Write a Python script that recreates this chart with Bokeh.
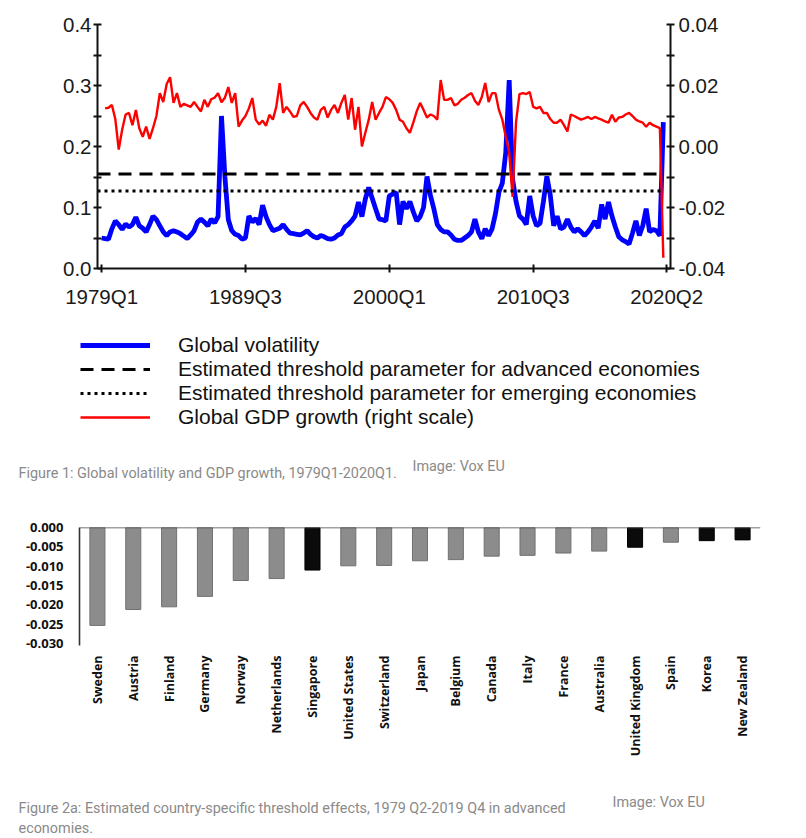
import math
from bokeh.plotting import figure
from bokeh.models import (Range1d, LinearAxis, FixedTicker, PrintfTickFormatter, Legend,
                          LegendItem, Label, Span, FactorRange, ColumnDataSource)
from bokeh.embed import file_html
from bokeh.resources import INLINE

# ---------------- data: figure 1 (quarterly, 1979Q1 .. 2020Q1) ----------------
first_year = 1979
volatility = [
    0.050, 0.049, 0.048, 0.065,  # 1979
    0.078, 0.072, 0.064, 0.073,  # 1980
    0.068, 0.072, 0.084, 0.070,  # 1981
    0.066, 0.060, 0.072, 0.086,  # 1982
    0.080, 0.070, 0.060, 0.054,  # 1983
    0.060, 0.062, 0.060, 0.057,  # 1984
    0.053, 0.049, 0.055, 0.062,  # 1985
    0.076, 0.081, 0.076, 0.070,  # 1986
    0.081, 0.075, 0.085, 0.250,  # 1987
    0.150, 0.080, 0.062, 0.056,  # 1988
    0.054, 0.048, 0.050, 0.086,  # 1989
    0.076, 0.082, 0.072, 0.104,  # 1990
    0.085, 0.072, 0.062, 0.064,  # 1991
    0.066, 0.072, 0.064, 0.058,  # 1992
    0.057, 0.056, 0.055, 0.058,  # 1993
    0.062, 0.056, 0.052, 0.050,  # 1994
    0.054, 0.052, 0.049, 0.048,  # 1995
    0.050, 0.055, 0.057, 0.068,  # 1996
    0.072, 0.078, 0.086, 0.109,  # 1997
    0.085, 0.114, 0.133, 0.115,  # 1998
    0.098, 0.081, 0.080, 0.078,  # 1999
    0.119, 0.122, 0.125, 0.072,  # 2000
    0.110, 0.098, 0.110, 0.093,  # 2001
    0.078, 0.085, 0.100, 0.151,  # 2002
    0.120, 0.098, 0.072, 0.064,  # 2003
    0.060, 0.060, 0.055, 0.048,  # 2004
    0.046, 0.046, 0.050, 0.054,  # 2005
    0.060, 0.081, 0.060, 0.049,  # 2006
    0.065, 0.054, 0.065, 0.090,  # 2007
    0.125, 0.140, 0.190, 0.309,  # 2008
    0.146, 0.110, 0.086, 0.081,  # 2009
    0.072, 0.119, 0.086, 0.070,  # 2010
    0.074, 0.110, 0.151, 0.120,  # 2011
    0.070, 0.086, 0.065, 0.068,  # 2012
    0.081, 0.068, 0.060, 0.065,  # 2013
    0.060, 0.054, 0.060, 0.068,  # 2014
    0.078, 0.066, 0.105, 0.081,  # 2015
    0.109, 0.086, 0.068, 0.052,  # 2016
    0.047, 0.044, 0.040, 0.058,  # 2017
    0.078, 0.054, 0.070, 0.098,  # 2018
    0.060, 0.064, 0.062, 0.054,  # 2019
    0.240,                       # 2020Q1
]

# GDP growth starts 1979Q2
gdp_growth = [
    0.0125, 0.0127, 0.0136,             # 1979 Q2-Q4
    0.0090, -0.0010, 0.0055, 0.0105,    # 1980
    0.0110, 0.0070, 0.0120, 0.0060,     # 1981
    0.0032, 0.0065, 0.0025, 0.0060,     # 1982
    0.0100, 0.0175, 0.0146, 0.0205,     # 1983
    0.0227, 0.0143, 0.0175, 0.0130,     # 1984
    0.0140, 0.0135, 0.0130, 0.0146,     # 1985
    0.0130, 0.0115, 0.0153, 0.0130,     # 1986
    0.0155, 0.0160, 0.0175, 0.0145,     # 1987
    0.0160, 0.0195, 0.0143, 0.0175,     # 1988
    0.0065, 0.0085, 0.0100, 0.0125,     # 1989
    0.0159, 0.0088, 0.0072, 0.0085,     # 1990
    0.0068, 0.0104, 0.0088, 0.0130,     # 1991
    0.0208, 0.0110, 0.0130, 0.0115,     # 1992
    0.0097, 0.0100, 0.0135, 0.0146,     # 1993
    0.0130, 0.0110, 0.0095, 0.0088,     # 1994
    0.0120, 0.0130, 0.0095, 0.0120,     # 1995
    0.0136, 0.0110, 0.0143, 0.0169,     # 1996
    0.0088, 0.0159, 0.0055, 0.0130,     # 1997
    0.0000, 0.0045, 0.0088, 0.0146,     # 1998
    0.0088, 0.0110, 0.0130, 0.0162,     # 1999
    0.0155, 0.0143, 0.0120, 0.0088,     # 2000
    0.0081, 0.0060, 0.0045, 0.0078,     # 2001
    0.0115, 0.0143, 0.0120, 0.0095,     # 2002
    0.0105, 0.0100, 0.0088, 0.0218,     # 2003
    0.0153, 0.0153, 0.0159, 0.0135,     # 2004
    0.0140, 0.0153, 0.0160, 0.0169,     # 2005
    0.0175, 0.0150, 0.0136, 0.0162,     # 2006
    0.0208, 0.0146, 0.0175, 0.0175,     # 2007
    0.0120, 0.0088, 0.0032, -0.0020,    # 2008
    -0.0165, 0.0080, 0.0172, 0.0175,    # 2009
    0.0172, 0.0179, 0.0130, 0.0125,     # 2010
    0.0130, 0.0110, 0.0110, 0.0090,     # 2011
    0.0078, 0.0078, 0.0088, 0.0070,     # 2012
    0.0049, 0.0105, 0.0100, 0.0094,     # 2013
    0.0088, 0.0092, 0.0097, 0.0090,     # 2014
    0.0097, 0.0092, 0.0088, 0.0082,     # 2015
    0.0078, 0.0104, 0.0081, 0.0095,     # 2016
    0.0097, 0.0105, 0.0110, 0.0100,     # 2017
    0.0088, 0.0082, 0.0078, 0.0065,     # 2018
    0.0078, 0.0070, 0.0065, 0.0060,     # 2019
    -0.0365,                            # 2020Q1
]

threshold_advanced = 0.155
threshold_emerging = 0.127
x_tick_labels = ["1979Q1", "1989Q3", "2000Q1", "2010Q3", "2020Q2"]
left_ticks = [0.0, 0.1, 0.2, 0.3, 0.4]
right_ticks = [-0.04, -0.02, 0.00, 0.02, 0.04]
legend_labels = ["Global volatility",
                 "Estimated threshold parameter for advanced economies",
                 "Estimated threshold parameter for emerging economies",
                 "Global GDP growth (right scale)"]
caption1 = "Figure 1: Global volatility and GDP growth, 1979Q1-2020Q1."
credit = "Image: Vox EU"

# ---------------- data: figure 2a ----------------
countries = ["Sweden", "Austria", "Finland", "Germany", "Norway", "Netherlands",
             "Singapore", "United States", "Switzerland", "Japan", "Belgium",
             "Canada", "Italy", "France", "Australia", "United Kingdom", "Spain",
             "Korea", "New Zealand"]
effects = [-0.0253, -0.0212, -0.0205, -0.0178, -0.0137, -0.0132, -0.0110, -0.0099,
           -0.0098, -0.0086, -0.0083, -0.0074, -0.0072, -0.0066, -0.0061, -0.0051,
           -0.0038, -0.0034, -0.0032]
black_bars = ["Singapore", "United Kingdom", "Korea", "New Zealand"]
bar_ticks = [0.0, -0.005, -0.010, -0.015, -0.020, -0.025, -0.030]
caption2a = "Figure 2a: Estimated country-specific threshold effects, 1979 Q2-2019 Q4 in advanced"
caption2b = "economies."


def qindex(label):
    return (int(label[:4]) - first_year) * 4 + int(label[-1]) - 1


AX_FONT = "Liberation Sans"
CAP_FONT = "Roboto"
CAP_COLOR = "#8a8a8a"
CAP_SIZE = "14.4px"
W = 800

xq_vol = list(range(len(volatility)))
xq_gdp = list(range(1, 1 + len(gdp_growth)))
last_q = xq_vol[-1]

VOL_STYLE = dict(line_color="#0000ff", line_width=4.8)
GDP_STYLE = dict(line_color="#ff0000", line_width=2.4)
ADV_STYLE = dict(line_color="black", line_width=3, line_dash="13 8")
EMG_STYLE = dict(line_color="black", line_width=3, line_dash="3 4")


def blank(height):
    f = figure(width=W, height=height, output_backend="svg", toolbar_location=None,
               x_axis_location=None, y_axis_location=None,
               x_range=Range1d(1000, 1001), y_range=Range1d(1000, 1001),
               min_border=0)
    f.outline_line_color = None
    f.grid.visible = False
    return f


def caption(fig, x, y, text):
    fig.add_layout(Label(x=x, y=y, x_units="screen", y_units="screen", text=text,
                         text_font=CAP_FONT, text_font_size=CAP_SIZE,
                         text_color=CAP_COLOR, text_baseline="middle"))


# ---------------- figure 1: lines ----------------
p = figure(width=W, height=310, output_backend="svg", toolbar_location=None,
           x_range=Range1d(-1.2, 166.1), y_range=Range1d(0, 0.4),
           min_border_left=97, min_border_right=130, min_border_top=24,
           min_border_bottom=40)
p.outline_line_color = None
p.xgrid.visible = False
p.ygrid.visible = False
p.extra_y_ranges = {"gdp": Range1d(-0.04, 0.04)}

p.line(xq_vol, volatility, **VOL_STYLE)
p.line(xq_gdp, gdp_growth, y_range_name="gdp", **GDP_STYLE)
p.line([-1.2, last_q], [threshold_advanced, threshold_advanced], **ADV_STYLE)
p.line([-1.2, last_q], [threshold_emerging, threshold_emerging], **EMG_STYLE)

xa = p.xaxis[0]
xa.ticker = FixedTicker(ticks=[qindex(l) for l in x_tick_labels])
xa.major_label_overrides = {qindex(l): l for l in x_tick_labels}
ya = p.yaxis[0]
ya.ticker = FixedTicker(ticks=left_ticks, minor_ticks=[0.05, 0.15, 0.25, 0.35])
ya.formatter = PrintfTickFormatter(format="%.1f")
ra = LinearAxis(y_range_name="gdp",
                ticker=FixedTicker(ticks=right_ticks, minor_ticks=[-0.03, -0.01, 0.01, 0.03]),
                formatter=PrintfTickFormatter(format="%.2f"))
p.add_layout(ra, "right")

for ax in (xa, ya, ra):
    ax.axis_line_width = 2
    ax.axis_line_color = "#111111"
    ax.major_tick_line_width = 2
    ax.major_tick_line_color = "#111111"
    ax.minor_tick_line_width = 2
    ax.minor_tick_line_color = "#111111"
    ax.major_tick_in = 4
    ax.major_tick_out = 4
    ax.minor_tick_in = 4
    ax.minor_tick_out = 4
    ax.major_label_text_font = AX_FONT
    ax.major_label_text_font_size = "20.5px"
    ax.major_label_text_color = "#1a1a1a"
xa.minor_tick_line_color = None
xa.major_label_standoff = 12
ya.major_label_standoff = 2
ra.major_label_standoff = 4

# ---------------- figure 1: legend + caption ----------------
pl = blank(178)
lv = pl.line(xq_vol, volatility, **VOL_STYLE)
la = pl.line([-1.2, last_q], [threshold_advanced, threshold_advanced], **ADV_STYLE)
le = pl.line([-1.2, last_q], [threshold_emerging, threshold_emerging], **EMG_STYLE)
lg = pl.line(xq_gdp, gdp_growth, **GDP_STYLE)
legend = Legend(items=[LegendItem(label=legend_labels[0], renderers=[lv]),
                       LegendItem(label=legend_labels[1], renderers=[la]),
                       LegendItem(label=legend_labels[2], renderers=[le]),
                       LegendItem(label=legend_labels[3], renderers=[lg])],
                location=(80, 59), orientation="vertical", padding=0, margin=0,
                spacing=0, glyph_width=70, glyph_height=20, label_height=20,
                label_standoff=28, border_line_color=None, background_fill_alpha=0,
                label_text_font=AX_FONT, label_text_font_size="21px",
                label_text_color="#111111")
pl.add_layout(legend)
caption(pl, 18, 15, caption1)
caption(pl, 412, 22, credit)

# ---------------- figure 2a: bars ----------------
p2 = figure(width=W, height=302, output_backend="svg", toolbar_location=None,
            x_range=FactorRange(factors=countries), y_range=Range1d(-0.0305, 0),
            min_border_left=79, min_border_right=40, min_border_top=39,
            min_border_bottom=145)
p2.outline_line_color = None
p2.xgrid.visible = False
p2.ygrid.visible = False

fills = ["#0b0b0b" if c in black_bars else "#8c8c8c" for c in countries]
lines = ["#000000" if c in black_bars else "#707070" for c in countries]
src = ColumnDataSource(dict(country=countries, effect=effects, fill=fills, line=lines))
p2.vbar(x="country", top=0, bottom="effect", width=0.42, fill_color="fill",
        line_color="line", line_width=1, source=src)
p2.add_layout(Span(location=0, dimension="width", line_color="#444444", line_width=1.6))

x2 = p2.xaxis[0]
x2.axis_line_color = None
x2.major_tick_line_color = None
x2.minor_tick_line_color = None
x2.major_tick_out = 0
x2.major_label_orientation = math.pi / 2
x2.major_label_standoff = 10
x2.major_label_text_font = "Open Sans"
x2.major_label_text_font_style = "bold"
x2.major_label_text_font_size = "12.5px"
x2.major_label_text_color = "#111111"

y2 = p2.yaxis[0]
y2.ticker = FixedTicker(ticks=bar_ticks)
y2.formatter = PrintfTickFormatter(format="%.3f")
y2.major_tick_line_color = None
y2.minor_tick_line_color = None
y2.major_tick_out = 0
y2.axis_line_color = "#333333"
y2.axis_line_width = 1.6
y2.major_label_standoff = 16
y2.major_label_text_font = "Open Sans"
y2.major_label_text_font_style = "bold"
y2.major_label_text_font_size = "13px"
y2.major_label_text_color = "#111111"

# ---------------- figure 2a: caption ----------------
pc = blank(46)
caption(pc, 18, 28, caption2a)
caption(pc, 18, 8, caption2b)
caption(pc, 612, 34, credit)

open("out.html", "w").write(file_html([p, pl, p2, pc], INLINE))
